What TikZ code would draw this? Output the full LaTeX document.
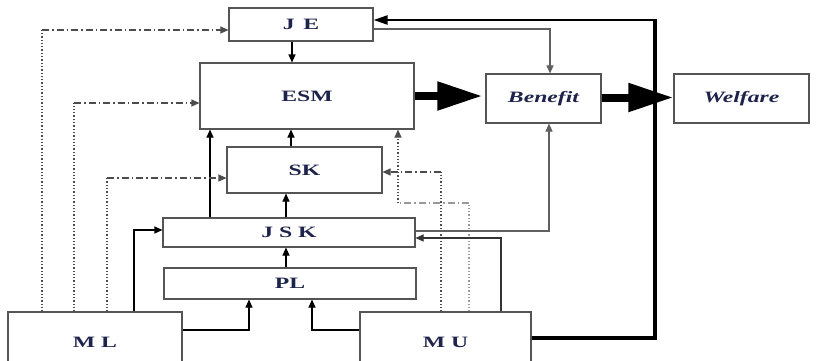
\documentclass[tikz,border=0pt]{standalone}
\usepackage{fontspec}
\setmainfont{Liberation Serif}[FakeStretch=1.5]
\usetikzlibrary{arrows.meta}
\definecolor{txt}{RGB}{30,35,75}
\definecolor{boxc}{RGB}{85,85,85}
\begin{document}
\begin{tikzpicture}[x=1pt,y=-1pt,
  blk/.style={draw=boxc, line width=1.1pt, rectangle, inner sep=0pt, text=txt,
    font=\fontsize{15.8}{18}\selectfont\bfseries},
  tip/.style={-{Triangle[length=8pt,width=7pt]}},
  con/.style={draw=black, line width=1.1pt},
  gcon/.style={draw=gray!75!black, line width=1.1pt},
  vdot/.style={draw=gray!60!black, line width=1.1pt, dash pattern=on 1.3pt off 2pt},
  hdash/.style={draw=gray!60!black, line width=1.1pt, dash pattern=on 7pt off 3pt on 1.5pt off 3pt},
  big/.style={draw=black, line width=8pt, -{Triangle[length=45pt,width=27pt]}}
]
\useasboundingbox (0,0) rectangle (820,360);
\clip (0,0) rectangle (820,360);
\fill[white] (0,0) rectangle (820,360);

% boxes
\node[blk, minimum width=144pt, minimum height=33pt] (JE) at (301,24.5) {J\, E};
\node[blk, minimum width=214pt, minimum height=66pt] (ESM) at (307,96) {ESM};
\node[blk, minimum width=115pt, minimum height=49pt] (Ben) at (543.5,98.5) {\itshape Benefit};
\node[blk, minimum width=135pt, minimum height=49pt] (Wel) at (741.5,98.5) {\itshape Welfare};
\node[blk, minimum width=155pt, minimum height=46pt] (SK) at (304.5,170) {SK};
\node[blk, minimum width=252pt, minimum height=29pt] (JSK) at (289,232.5) {J S K};
\node[blk, minimum width=252pt, minimum height=31pt] (PL) at (290,283.5) {PL};
\node[blk, minimum width=174pt, minimum height=60pt] (ML) at (95,342) {M L};
\node[blk, minimum width=171pt, minimum height=60pt] (MU) at (445.5,342) {M U};

% big arrows
\draw[big] (ESM.east |- 0,96) -- ([xshift=-3pt]Ben.west |- 0,96);
\draw[big] (Ben.east |- 0,97.5) -- (Wel.west |- 0,97.5);

% thick feedback loop MU -> JE
\draw[line width=4pt, line join=miter] (MU.east |- 0,338) -- (655,338) -- (655,18.9);
\draw[line width=2.2pt, -{Triangle[length=14pt,width=9pt]}] (657,20) -- (JE.east |- 0,20);

% JE -> ESM, JE -> Benefit
\draw[con, tip] (292,0 |- JE.south) -- (292,0 |- ESM.north);
\draw[gcon, tip] (JE.east |- 0,29) -| (550,0 |- Ben.north);

% internal vertical arrows
\draw[con, tip] (286,0 |- PL.north) -- (286,0 |- JSK.south);
\draw[con, tip] (286,0 |- JSK.north) -- (286,0 |- SK.south);
\draw[con, tip] (291,0 |- SK.north) -- (291,0 |- ESM.south);
\draw[con, tip] (210,0 |- JSK.north) -- (210,0 |- ESM.south);

% ML connections
\draw[vdot] (42,0 |- ML.north) -- (42,30);
\draw[hdash, tip] (42,30) -- (JE.west |- 0,30);
\draw[vdot] (74,0 |- ML.north) -- (74,103);
\draw[hdash, tip] (74,103) -- (ESM.west |- 0,103);
\draw[vdot] (107,0 |- ML.north) -- (107,178);
\draw[hdash, tip] (107,178) -- (SK.west |- 0,178);
\draw[con, tip] (134,0 |- ML.north) |- (JSK.west |- 0,230);
\draw[con, tip] (ML.east |- 0,330) -| (249,0 |- PL.south);

% MU connections
\draw[con, tip] (MU.west |- 0,330) -| (312,0 |- PL.south);
\draw[vdot] (441,0 |- MU.north) -- (441,172);
\draw[hdash, tip] (441,172) -- (SK.east |- 0,172);
\draw[vdot, draw=gray!80] (469,0 |- MU.north) -- (469,203);
\draw[hdash, draw=gray!80] (469,203) -- (398,203);
\draw[vdot, tip] (398,203) -- (398,0 |- ESM.south);
\draw[con, draw=black!80, tip] (501,0 |- MU.north) |- (JSK.east |- 0,238);

% JSK -> Benefit
\draw[gcon, tip] (JSK.east |- 0,231) -| (549,0 |- Ben.south);
\end{tikzpicture}
\end{document}
